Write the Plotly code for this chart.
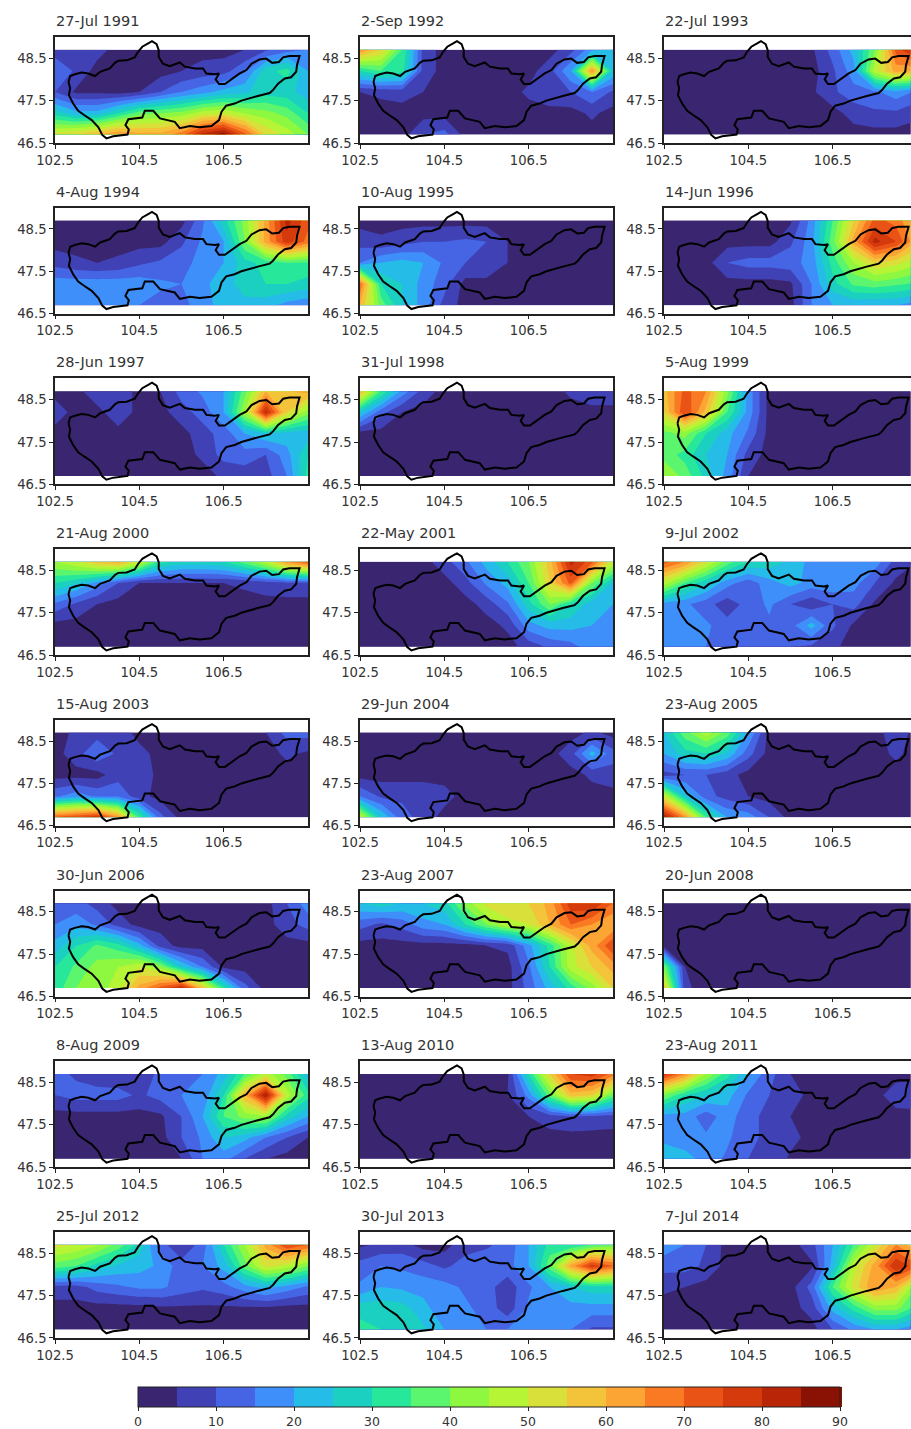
import plotly.graph_objects as go

LON = [102.5,103,103.5,104,104.5,105,105.5,106,106.5,107,107.5,108,108.5]
LAT = [48.7,48.2,47.7,47.2,46.7]
LEVELS_START, LEVELS_END, LEVEL_STEP = 0, 90, 5
BAND_COLORS = ["#3a2570","#4041b4","#4565e4","#3f8ffb","#25bce8","#1bd0c0","#27e89a","#5cf56e","#8ef73f",
               "#b6f535","#d9e03a","#f3c43a","#fca434","#f97a22","#ea5316","#d53a0c","#b82507","#8a1204"]
LON_TICKS = [102.5,104.5,106.5]
LAT_TICKS = [46.5,47.5,48.5]
CB_TICKS = [0,10,20,30,40,50,60,70,80,90]
DATES = ["27-Jul 1991","2-Sep 1992","22-Jul 1993","4-Aug 1994","10-Aug 1995","14-Jun 1996","28-Jun 1997","31-Jul 1998",
         "5-Aug 1999","21-Aug 2000","22-May 2001","9-Jul 2002","15-Aug 2003","29-Jun 2004","23-Aug 2005","30-Jun 2006",
         "23-Aug 2007","20-Jun 2008","8-Aug 2009","13-Aug 2010","23-Aug 2011","25-Jul 2012","30-Jul 2013","7-Jul 2014"]

P1991 = [[7,7,7,3,3,3,3,3,3,5,9,13,15],[15,9,3,3,3,3,5,7,8,14,28,32,20],[10,4,4,3,5,10,15,18,22,24,28,27,22],[28,22,22,30,38,40,42,48,50,45,42,38,30],[52,55,60,65,62,62,68,82,88,72,55,48,40]]
P1992 = [[65,55,35,8,3,3,3,3,3,3,8,18,22],[30,35,32,8,3,3,3,3,3,8,20,65,25],[5,6,7,5,3,3,3,3,6,9,10,15,9],[3,3,3,3,3,3,3,3,3,3,3,6,3],[3,3,3,10,12,3,3,3,3,3,3,3,3]]
P1993 = [[3,3,3,3,3,3,3,4,12,22,40,72,85],[3,3,3,3,3,3,3,3,9,18,48,62,60],[3,3,3,3,3,3,3,4,9,13,14,18,14],[3,3,3,3,3,3,3,3,3,7,9,9,6],[3,3,3,3,3,3,3,3,3,3,3,3,3]]
P1994 = [[3,3,3,3,3,3,3,14,28,42,62,82,72],[3,3,3,3,3,3,9,16,20,40,62,78,68],[8,6,5,6,9,11,13,17,20,28,32,35,34],[18,18,18,18,18,16,15,19,22,28,30,30,28],[20,20,20,18,15,13,13,18,22,23,22,18,16]]
P1995 = [[3,3,3,3,3,3,3,3,3,3,3,3,3],[8,6,8,10,10,11,10,5,3,3,3,3,3],[15,20,22,20,14,10,10,5,3,3,3,3,3],[70,30,25,18,12,3,3,3,3,3,3,3,3],[60,38,25,18,8,3,3,3,3,3,3,3,3]]
P1996 = [[3,3,3,3,3,3,4,17,35,55,72,68,58],[3,3,3,3,3,3,9,18,38,62,82,75,60],[3,3,3,10,12,12,13,17,32,45,55,52,46],[3,3,3,3,3,3,4,15,28,36,38,36,34],[3,3,3,3,3,3,3,15,20,21,20,20,17]]
P1997 = [[3,3,9,9,3,5,12,16,20,38,60,60,62],[8,3,3,9,3,3,8,12,20,45,82,55,42],[3,3,3,3,3,3,3,8,12,20,25,23,22],[3,3,3,3,3,3,3,6,12,13,10,18,30],[3,3,3,3,3,3,3,3,6,7,8,15,32]]
P1998 = [[60,35,18,8,3,3,3,3,3,3,6,9,9],[25,12,5,3,3,3,3,3,3,3,3,3,3],[3,3,3,3,3,3,3,3,3,3,3,3,3],[3,3,3,3,3,3,3,3,3,3,3,3,3],[3,3,3,3,3,3,3,3,3,3,3,3,3]]
P1999 = [[58,72,65,42,18,3,3,3,3,3,3,3,3],[55,75,58,35,18,3,3,3,3,3,3,3,3],[38,42,30,22,14,3,3,3,3,3,3,3,3],[38,33,25,20,8,3,3,3,3,3,3,3,3],[45,38,28,18,5,3,3,3,3,3,3,3,3]]
P2000 = [[45,50,58,62,50,32,28,28,30,38,48,65,72],[30,26,18,10,5,5,5,5,5,6,8,9,9],[14,9,5,3,3,3,3,3,3,3,3,3,3],[3,3,3,3,3,3,3,3,3,3,3,3,3],[3,3,3,3,3,3,3,3,3,3,3,3,3]]
P2001 = [[3,3,3,3,8,14,22,30,40,58,82,72,50],[3,3,3,3,3,8,16,22,35,55,72,40,24],[3,3,3,3,3,3,7,14,28,40,30,22,20],[3,3,3,3,3,3,3,6,18,22,22,20,20],[3,3,3,3,3,3,3,3,7,11,13,18,18]]
P2002 = [[72,65,52,38,30,28,24,18,18,20,18,8,5],[48,35,26,17,12,18,22,18,19,17,10,4,3],[18,16,12,7,12,16,10,6,10,12,4,3,3],[18,17,16,12,13,14,13,22,11,4,3,3,3],[16,15,15,14,14,12,10,9,6,3,3,3,3]]
P2003 = [[3,6,8,8,3,3,3,3,3,3,5,12,12],[3,8,14,9,7,3,3,3,3,3,3,6,4],[3,3,3,8,9,3,3,3,3,3,3,3,3],[14,18,14,14,7,3,3,3,3,3,3,3,3],[72,75,80,65,35,12,3,3,3,3,3,3,3]]
P2004 = [[3,3,3,3,3,3,3,3,3,3,3,6,3],[3,3,3,3,3,3,3,3,3,3,8,22,12],[3,3,3,3,3,3,3,3,3,3,3,6,8],[15,9,9,9,7,3,3,3,3,3,3,3,3],[50,25,12,8,3,3,3,3,3,3,3,3,3]]
P2005 = [[25,38,48,38,20,3,3,3,3,3,3,8,3],[20,28,30,24,12,3,3,3,3,3,3,6,3],[8,10,10,7,3,3,3,3,3,3,3,3,3],[50,25,12,8,5,3,3,3,3,3,3,3,3],[85,65,35,20,18,10,3,3,3,3,3,3,3]]
P2006 = [[12,12,8,3,3,3,3,3,3,3,3,10,18],[15,18,14,8,3,3,3,3,3,3,3,8,12],[22,30,36,32,22,8,3,3,3,3,3,3,3],[30,36,42,45,50,42,25,15,4,3,3,3,3],[32,40,42,48,62,72,82,58,32,12,3,3,3]]
P2007 = [[25,28,25,25,28,42,52,55,55,62,78,80,70],[12,9,12,18,20,30,40,48,50,60,70,65,60],[3,3,3,3,3,3,5,6,18,32,48,62,75],[3,3,3,3,3,3,3,3,14,30,48,55,62],[3,3,3,3,3,3,3,3,12,22,32,42,55]]
P2008 = [[3,3,3,3,3,3,3,3,3,3,3,3,3],[3,3,3,3,3,3,3,3,3,3,3,3,3],[3,3,3,3,3,3,3,3,3,3,3,3,3],[40,5,3,3,3,3,3,3,3,3,3,3,3],[58,6,3,3,3,3,3,3,3,3,3,3,3]]
P2009 = [[12,9,7,6,5,12,13,15,22,35,48,38,22],[10,12,12,12,9,12,15,16,30,60,85,48,32],[3,3,3,3,3,4,10,20,35,42,45,28,20],[3,3,3,3,3,3,10,16,25,22,15,10,5],[3,3,3,3,3,3,5,15,17,10,5,3,3]]
P2010 = [[3,3,3,3,3,3,3,4,30,55,75,78,68],[3,3,3,3,3,3,3,5,17,38,58,55,38],[3,3,3,3,3,3,3,3,5,8,10,9,8],[3,3,3,3,3,3,3,3,3,3,3,3,3],[3,3,3,3,3,3,3,3,3,3,3,3,3]]
P2011 = [[78,65,45,32,20,12,5,3,3,3,3,3,3],[40,30,25,22,14,10,8,3,3,3,3,8,9],[18,18,12,18,11,9,5,3,3,3,3,3,3],[18,17,16,16,11,9,7,3,3,3,3,3,3],[25,22,18,14,10,9,4,3,3,3,3,3,3]]
P2012 = [[52,50,46,38,28,12,6,12,30,45,62,75,70],[38,35,28,24,22,19,12,15,22,38,52,48,40],[8,8,12,14,16,16,13,11,13,18,22,18,14],[3,3,3,3,3,4,4,4,4,4,4,3,3],[3,3,3,3,3,3,3,3,3,3,3,3,3]]
P2013 = [[4,6,7,3,3,8,9,12,20,32,30,35,38],[12,15,14,12,9,12,14,13,20,38,62,78,70],[16,20,19,18,17,14,12,7,14,20,25,28,28],[28,28,27,22,16,16,13,7,16,18,18,18,18],[32,30,28,26,20,16,15,15,16,16,15,9,9]]
P2014 = [[18,15,10,3,3,3,3,8,20,35,50,65,55],[12,12,9,3,3,3,3,4,22,48,62,80,72],[6,5,3,3,3,3,3,12,35,52,65,60,40],[3,3,3,3,3,3,3,7,22,32,42,42,32],[3,3,3,3,3,3,3,3,10,16,20,20,16]]
PANELS = [P1991,P1992,P1993,P1994,P1995,P1996,P1997,P1998,P1999,P2000,P2001,P2002,P2003,P2004,P2005,P2006,P2007,P2008,P2009,P2010,P2011,P2012,P2013,P2014]

BASIN_LON = [102.82,102.86,102.97,103.13,103.29,103.45,103.57,103.68,103.80,103.92,104.0,104.20,104.39,104.47,104.57,104.71,104.80,104.91,104.96,104.96,105.06,105.22,105.46,105.58,105.82,106.01,106.09,106.29,106.39,106.31,106.39,106.53,106.72,106.88,107.04,107.16,107.35,107.51,107.65,107.81,107.91,108.06,108.30,108.24,108.22,108.10,107.95,107.79,107.67,107.59,107.31,107.12,106.92,106.76,106.56,106.45,106.39,106.21,105.93,105.70,105.46,105.34,105.14,104.99,104.83,104.63,104.57,104.24,104.17,104.25,104.22,103.88,103.72,103.62,103.53,103.37,103.19,103.05,102.93,102.83,102.86,102.82]
BASIN_LAT = [47.94,48.08,48.12,48.16,48.14,48.08,48.18,48.22,48.26,48.39,48.44,48.45,48.52,48.65,48.77,48.85,48.90,48.83,48.69,48.53,48.37,48.31,48.40,48.30,48.26,48.26,48.14,48.12,48.14,48.0,47.89,47.89,48.02,48.14,48.22,48.37,48.47,48.49,48.39,48.41,48.52,48.55,48.55,48.34,48.18,48.05,48.02,47.90,47.75,47.68,47.61,47.55,47.50,47.43,47.38,47.24,47.04,46.90,46.87,46.90,46.85,47.0,47.04,47.08,47.26,47.26,47.10,47.06,46.92,46.82,46.70,46.66,46.61,46.69,46.87,47.04,47.16,47.26,47.43,47.63,47.79,47.94]

W, H = 911, 1429
COL_LEFT = [55, 360, 664]
PANEL_W, PANEL_H = 253, 106
ROW_BOTTOM = [143 + 170.71*i for i in range(8)]
PX_PER_DEG = 253/6.0

n = len(BAND_COLORS)
scale = []
for i, c in enumerate(BAND_COLORS):
    scale += [[i/n, c], [(i+1)/n, c]]

fig = go.Figure()
layout = {}
for i, (date, z) in enumerate(zip(DATES, PANELS)):
    r, c = i // 3, i % 3
    left = COL_LEFT[c]
    right = min(left + PANEL_W, W - 0.5)
    bottom = ROW_BOTTOM[r]
    top = bottom - PANEL_H
    sx = "" if i == 0 else str(i + 1)
    fig.add_trace(go.Contour(x=LON, y=LAT, z=z, xaxis="x"+sx, yaxis="y"+sx, zmin=LEVELS_START, zmax=LEVELS_END,
                             colorscale=scale, autocontour=False, line=dict(width=0, smoothing=0),
                             contours=dict(start=LEVELS_START, end=LEVELS_END, size=LEVEL_STEP, coloring="fill", showlines=False),
                             showscale=(i == 0),
                             colorbar=dict(orientation="h", lenmode="pixels", len=702, thicknessmode="pixels", thickness=20,
                                           x=138/W, xanchor="left", y=1-1387/H, yanchor="top", xpad=0, ypad=0,
                                           tickmode="array", tickvals=CB_TICKS, ticks="outside", ticklen=4, tickcolor="#222",
                                           tickfont=dict(family="DejaVu Sans", size=12.5, color="#333"),
                                           outlinecolor="#222", outlinewidth=1)))
    fig.add_trace(go.Scatter(x=BASIN_LON, y=BASIN_LAT, xaxis="x"+sx, yaxis="y"+sx, mode="lines",
                             line=dict(color="black", width=2), showlegend=False, hoverinfo="skip"))
    tick = dict(ticks="outside", ticklen=4, tickcolor="#222", tickwidth=1, showgrid=False, zeroline=False,
                showline=True, linecolor="#222", linewidth=1.5, tickfont=dict(family="DejaVu Sans", size=13.2, color="#333"))
    layout["xaxis"+sx] = dict(domain=[left/W, right/W], range=[102.5, 102.5+(right-left)/PX_PER_DEG], anchor="y"+sx,
                              tickmode="array", tickvals=LON_TICKS, ticktext=[f"{v:.1f}" for v in LON_TICKS], mirror=True, **tick)
    layout["yaxis"+sx] = dict(domain=[1-bottom/H, 1-top/H], range=[46.5, 49.0], anchor="x"+sx,
                              tickmode="array", tickvals=LAT_TICKS, ticktext=[f"{v:.1f}" for v in LAT_TICKS], mirror=(c != 2), **tick)
    fig.add_annotation(text=date, xref="paper", yref="paper", x=left/W, y=1-(top-16)/H, xanchor="left", yanchor="middle",
                       showarrow=False, xshift=-1, font=dict(family="DejaVu Sans", size=14.5, color="#333"))

fig.update_layout(width=W, height=H, margin=dict(l=0, r=0, t=0, b=0, autoexpand=False), paper_bgcolor="white",
                  plot_bgcolor="white", showlegend=False, **layout)
fig.write_html("out.html", config={"displayModeBar": False},
               post_script="document.body.style.margin='0';document.body.style.overflow='hidden';")
